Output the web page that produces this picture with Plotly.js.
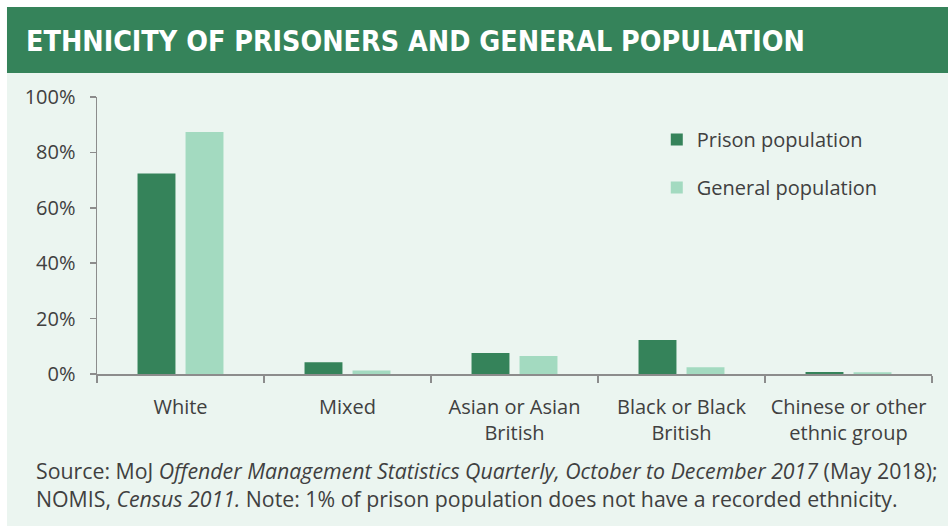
<!DOCTYPE html>
<html>
<head>
<meta charset="utf-8">
<script src="https://cdn.plot.ly/plotly-3.0.1.min.js"></script>
<style>
html,body{margin:0;padding:0;background:#ffffff;}
#chart{width:948px;height:526px;}
</style>
</head>
<body>
<div id="chart"></div>
<script>
const categories = ["White", "Mixed", "Asian or Asian<br>British", "Black or Black<br>British", "Chinese or other<br>ethnic group"];
const prisonPopulation = [72.4, 4.2, 7.6, 12.3, 0.7];
const generalPopulation = [87.4, 1.3, 6.5, 2.4, 0.6];
const yTickValues = [0, 20, 40, 60, 80, 100];
const yTickLabels = ["0%", "20%", "40%", "60%", "80%", "100%"];
const seriesNames = ["Prison population", "General population"];

const DARK = "#35835A";
const LIGHT = "#A3DAC0";
const MINT = "#EBF5F0";
const TEXT = "#404040";
const BODY_FONT = "Open Sans, Noto Sans, sans-serif";

const traces = [
  {type: "bar", name: seriesNames[0], x: categories, y: prisonPopulation,
   marker: {color: DARK}, legendgroup: "a", hoverinfo: "skip"},
  {type: "bar", name: seriesNames[1], x: categories, y: generalPopulation,
   marker: {color: LIGHT}, legendgroup: "b", hoverinfo: "skip"}
];

const layout = {
  width: 948, height: 526,
  margin: {l: 97, r: 16, t: 97, b: 152, pad: 0},
  paper_bgcolor: "#ffffff",
  plot_bgcolor: "rgba(0,0,0,0)",
  barmode: "group",
  bargap: 0.425,
  bargroupgap: 0.21,
  font: {family: BODY_FONT, color: TEXT, size: 20},
  xaxis: {
    type: "category",
    showgrid: false, zeroline: false,
    showline: true, linecolor: "#8C8C8C", linewidth: 1.5,
    ticks: "outside", tickson: "boundaries", ticklen: 7, tickcolor: "#8C8C8C", tickwidth: 1.5,
    tickfont: {family: BODY_FONT, size: 20, color: TEXT},
    ticklabelstandoff: 14,
    fixedrange: true
  },
  yaxis: {
    range: [0, 100],
    tickvals: yTickValues, ticktext: yTickLabels,
    showgrid: false, zeroline: false,
    showline: true, linecolor: "#8C8C8C", linewidth: 1.5,
    ticks: "outside", ticklen: 6, tickcolor: "#8C8C8C", tickwidth: 1.5,
    tickfont: {family: BODY_FONT, size: 20, color: TEXT},
    ticklabelstandoff: 10,
    fixedrange: true
  },
  legend: {
    x: 0.6704, xanchor: "left", y: 0.917, yanchor: "top",
    bgcolor: "rgba(0,0,0,0)",
    font: {family: BODY_FONT, size: 20, color: TEXT},
    traceorder: "grouped", tracegroupgap: 19
  },
  showlegend: true,
  shapes: [
    {type: "rect", xref: "paper", yref: "paper", x0: -0.1078, x1: 1.02, y0: -0.56, y1: 1.0866,
     fillcolor: MINT, line: {width: 0}, layer: "below"},
    {type: "rect", xref: "paper", yref: "paper", x0: -0.1078, x1: 1.02, y0: 1.0866, y1: 1.3249,
     fillcolor: DARK, line: {width: 0}, layer: "below"}
  ],
  annotations: [
    {text: "ETHNICITY OF PRISONERS AND GENERAL POPULATION", xref: "paper", yref: "paper",
     x: -0.0874, y: 1.1986, xanchor: "left", yanchor: "middle", showarrow: false,
     font: {family: "Liberation Sans Narrow, DejaVu Sans Condensed, Open Sans, sans-serif", size: 28.4, color: "#ffffff", weight: "bold"}},
    {text: "Source: MoJ <i>Offender Management Statistics Quarterly, October to December 2017</i> (May 2018);<br>NOMIS, <i>Census 2011.</i> Note: 1% of prison population does not have a recorded ethnicity.",
     xref: "paper", yref: "paper", x: -0.0754, y: -0.29, xanchor: "left", yanchor: "top", align: "left",
     showarrow: false, font: {family: BODY_FONT, size: 21.3, color: TEXT}}
  ]
};

Plotly.newPlot("chart", traces, layout, {displayModeBar: false, staticPlot: true});
</script>
</body>
</html>
